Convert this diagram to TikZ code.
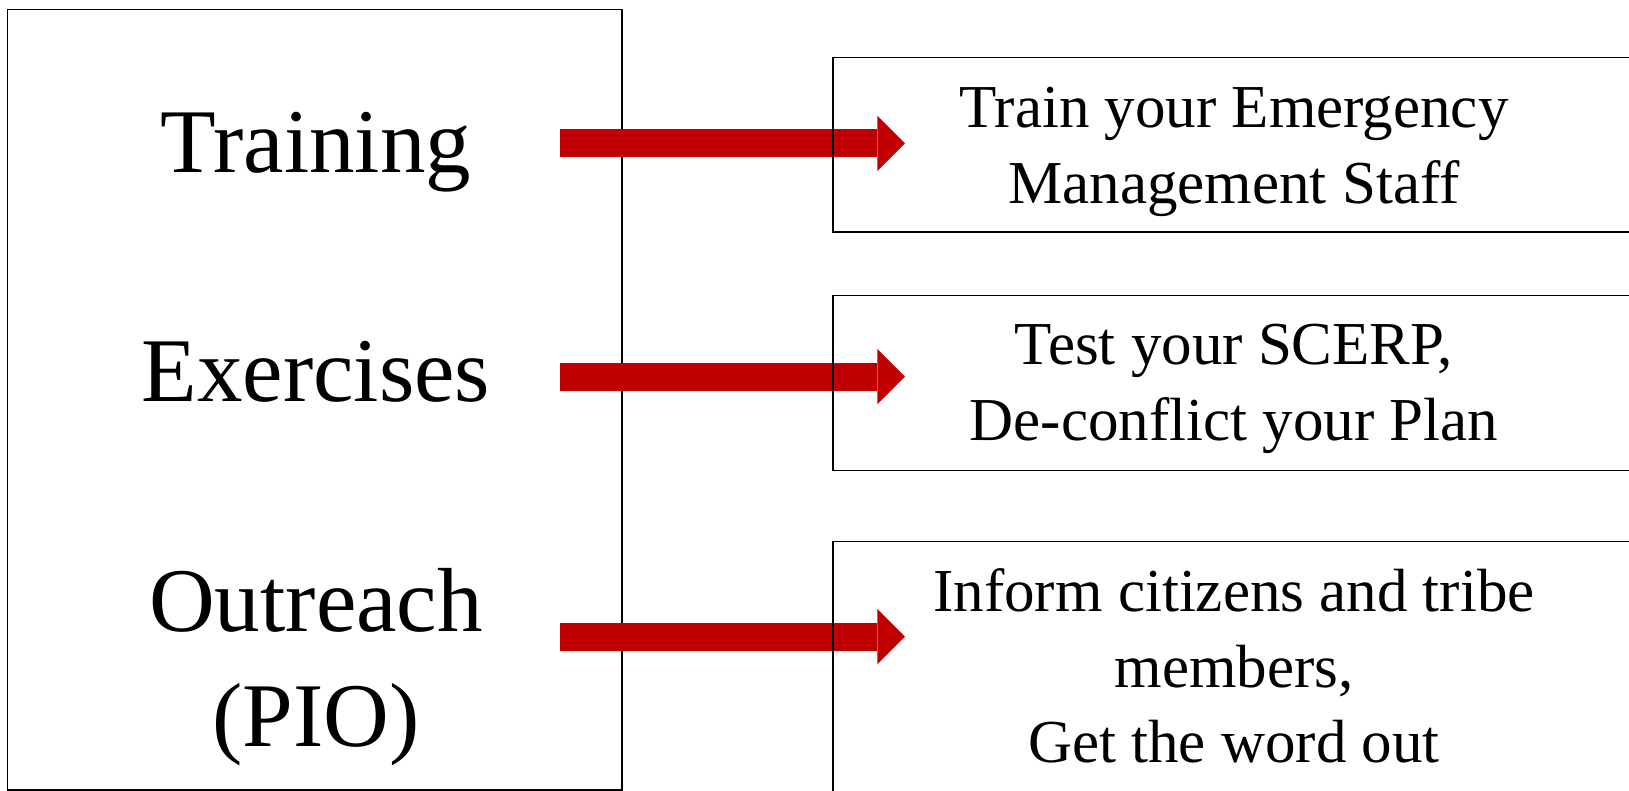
\documentclass[tikz,border=0pt]{standalone}
\usepackage{fontspec}
\setmainfont{Liberation Serif}
\usepackage{xcolor}
\usetikzlibrary{arrows.meta}
\definecolor{arrowred}{HTML}{C00000}

\begin{document}
\begin{tikzpicture}[x=0.5pt,y=-0.5pt,
        frame/.style={draw=black,line width=0.7pt,inner sep=0pt},
        bigtext/.style={font=\fontsize{45.5}{57.5}\selectfont,align=center,anchor=base,inner sep=0pt},
        smalltext/.style={font=\fontsize{30.5}{37.75}\selectfont,align=center,anchor=base,inner sep=0pt},
        redarrow/.style={arrowred,line width=14pt,-{Triangle[length=13.85pt,width=27.7pt,line width=0pt]}}]
        \useasboundingbox (0,0) rectangle (1629,791);
        \clip (0,0) rectangle (1629,791);

        % Left box with the three topics
        \node[frame,minimum width=307.25pt,minimum height=390.25pt] (topics) at (314.75,399.75) {};
        \node[bigtext] (training) at (316,172.7) {Training};
        \node[bigtext] (exercises) at (316,401.7) {Exercises};
        \node[bigtext] (outreach) at (316,746.7) {Outreach\\(PIO)};

        % Arrows
        \coordinate (tailA) at (560,143.3);
        \coordinate (headA) at (905,143.3);
        \coordinate (tailB) at (560,376.7);
        \coordinate (headB) at (905,376.7);
        \coordinate (tailC) at (560,636.7);
        \coordinate (headC) at (905,636.7);
        \draw[redarrow] (tailA) -- (headA);
        \draw[redarrow] (tailB) -- (headB);
        \draw[redarrow] (tailC) -- (headC);

        % Right boxes
        \node[frame,minimum width=403.5pt,minimum height=87.15pt] (staff) at (1236.5,144.85) {};
        \node[frame,minimum width=403.5pt,minimum height=87.7pt] (plan) at (1236.5,383) {};
        \node[frame,minimum width=403.5pt,minimum height=140pt] (word) at (1236.5,681.7) {};
        \node[smalltext] (stafftext) at (1234,203.3) {Train your Emergency\\Management Staff};
        \node[smalltext] (plantext) at (1234,440) {Test your SCERP,\\De-conflict your Plan};
        \node[smalltext] (wordtext) at (1234,762.7) {Inform citizens and tribe\\members,\\Get the word out};
\end{tikzpicture}
\end{document}
